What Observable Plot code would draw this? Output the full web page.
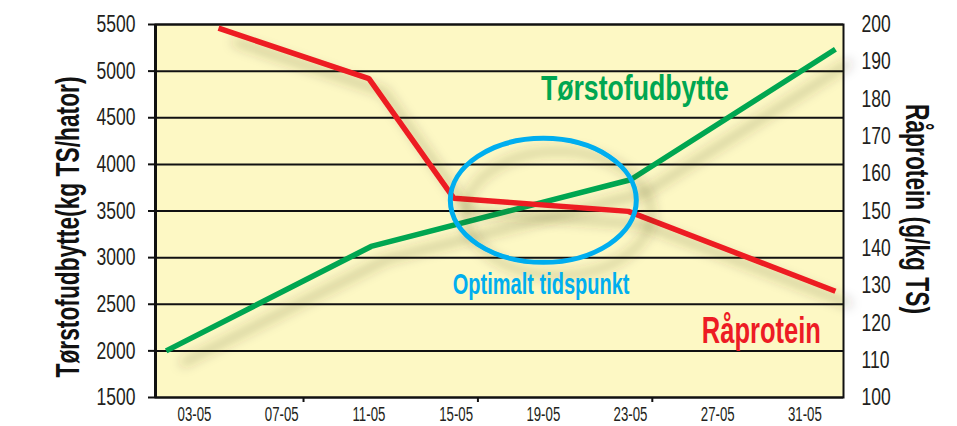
<!DOCTYPE html>
<html>
<head>
<meta charset="utf-8">
<script src="https://cdn.jsdelivr.net/npm/d3@7"></script>
<script src="https://cdn.jsdelivr.net/npm/@observablehq/plot@0.6"></script>
<style>
  html, body { margin: 0; padding: 0; background: #ffffff; }
  #chart svg { display: block; }
</style>
</head>
<body>
<div id="chart"></div>
<script>
// ---- Data ----
// Tørstofudbytte (kg TS/ha) – left axis
const tsDays   = [1.7, 11.1, 23.0, 32.4];
const tsValues = [2000, 3120, 3835, 5235];
// Råprotein (g/kg TS) – right axis
const rpDays   = [4.1, 11.0, 14.9, 22.9, 32.4];
const rpValues = [199, 185.5, 153.4, 149.9, 128.5];

// Axis ticks
const leftTicks   = [1500, 2000, 2500, 3000, 3500, 4000, 4500, 5000, 5500];
const rightTicks  = [100, 110, 120, 130, 140, 150, 160, 170, 180, 190, 200];
const xTickDays   = [3, 7, 11, 15, 19, 23, 27, 31];
const xTickLabels = ["03-05", "07-05", "11-05", "15-05", "19-05", "23-05", "27-05", "31-05"];
const xMarkDays   = [8, 16, 24];

// Annotations
const optimumDay = [19.0];
const optimumVal = [3614];
const labelTS   = {text: "Tørstofudbytte", day: 23.2, val: 4690};
const labelRP   = {text: "Råprotein", day: 29.0, val: 2080};
const labelOpt  = {text: "Optimalt tidspunkt", day: 18.9, val: 2615};
const leftTitle  = "Tørstofudbytte(kg TS/hator)";
const rightTitle = "Råprotein (g/kg TS)";

// map right-axis values onto the left scale
const toLeft   = v => 1500 + (v - 100) * 40;
const fromLeft = v => Math.round(100 + (v - 1500) / 40);

const tsData = tsDays.map((d, i) => ({day: d, val: tsValues[i]}));
const rpData = rpDays.map((d, i) => ({day: d, val: toLeft(rpValues[i])}));

const FONT = "'Liberation Sans', Arial, sans-serif";
const GREEN = "#00A651", RED = "#ED1C24", BLUE = "#00AEEF";

// custom ellipse symbol (rx = 1.5 * r)
const ellipseSymbol = {
  draw(context, size) {
    const r = Math.sqrt(size / Math.PI);
    const rx = r * 1.5, ry = r, k = 0.5523;
    context.moveTo(rx, 0);
    context.bezierCurveTo(rx, ry * k, rx * k, ry, 0, ry);
    context.bezierCurveTo(-rx * k, ry, -rx, ry * k, -rx, 0);
    context.bezierCurveTo(-rx, -ry * k, -rx * k, -ry, 0, -ry);
    context.bezierCurveTo(rx * k, -ry, rx, -ry * k, rx, 0);
    context.closePath();
  }
};

const chart = Plot.plot({
  width: 957,
  height: 426,
  marginLeft: 155,
  marginRight: 114,
  marginTop: 24,
  marginBottom: 29,
  style: {fontFamily: FONT, background: "#ffffff", color: "#231f20"},
  x: {domain: [1.21, 32.77]},
  y: {domain: [1500, 5500]},
  marks: [
    Plot.frame({fill: "#FDF8C4", stroke: null}),
    Plot.ruleY(leftTicks, {stroke: "#111", strokeWidth: 2}),
    Plot.frame({stroke: "#111", strokeWidth: 2}),
    Plot.ruleX([1.21], {stroke: "#111", strokeWidth: 3}),
    Plot.axisY(leftTicks, {
      anchor: "left", tickSize: 7, tickPadding: 13, strokeWidth: 2, stroke: "#111",
      fontSize: 24, tickFormat: d => String(d), label: null, fill: "#231f20"
    }),
    Plot.axisY(rightTicks.map(toLeft), {
      anchor: "right", tickSize: 0, tickPadding: 18,
      fontSize: 24, tickFormat: v => String(fromLeft(v)), label: null, fill: "#231f20"
    }),
    Plot.axisX(xTickDays, {
      anchor: "bottom", tickSize: 0, tickPadding: 9, fontSize: 21,
      tickFormat: d => xTickLabels[xTickDays.indexOf(d)], label: null, fill: "#231f20"
    }),
    Plot.axisX(xMarkDays, {
      anchor: "bottom", tickSize: 5, strokeWidth: 2, stroke: "#111", tickFormat: () => "", label: null
    }),
    Plot.text([leftTitle], {
      frameAnchor: "left", textAnchor: "middle", dx: -87, dy: 16, rotate: -90, text: d => d,
      fontSize: 33, fontWeight: "bold", fill: "#111"
    }),
    Plot.text([rightTitle], {
      frameAnchor: "right", textAnchor: "middle", dx: 73, dy: -2, rotate: 90, text: d => d,
      fontSize: 33, fontWeight: "bold", fill: "#111"
    }),
    Plot.line(tsData, {x: "day", y: "val", stroke: GREEN, strokeWidth: 5.5, strokeLinejoin: "miter", strokeLinecap: "butt"}),
    Plot.line(rpData, {x: "day", y: "val", stroke: RED, strokeWidth: 5.5, strokeLinejoin: "miter", strokeLinecap: "butt"}),
    Plot.dot(optimumDay.map((d, i) => ({day: d, val: optimumVal[i]})), {
      x: "day", y: "val", r: 62, symbol: ellipseSymbol, fill: "none", stroke: BLUE, strokeWidth: 5
    }),
    Plot.text([labelTS], {x: "day", y: "val", text: "text", lineAnchor: "bottom", fontSize: 36, fontWeight: "bold", fill: GREEN}),
    Plot.text([labelRP], {x: "day", y: "val", text: "text", lineAnchor: "bottom", fontSize: 37, fontWeight: "bold", fill: RED}),
    Plot.text([labelOpt], {x: "day", y: "val", text: "text", lineAnchor: "bottom", fontSize: 29, fontWeight: "bold", fill: BLUE})
  ]
});

// soft drop shadow like the original
const ns = "http://www.w3.org/2000/svg";
const defs = document.createElementNS(ns, "defs");
defs.innerHTML = '<filter id="shadow" x="-20%" y="-30%" width="150%" height="180%">' +
  '<feDropShadow dx="15" dy="13" stdDeviation="6" flood-color="#3a3510" flood-opacity="0.33"/></filter>';
chart.insertBefore(defs, chart.firstChild);
chart.querySelectorAll('g[aria-label="line"], g[aria-label="dot"]').forEach(g => g.setAttribute("filter", "url(#shadow)"));

document.getElementById("chart").appendChild(chart);

// condensed lettering (the original uses a condensed typeface):
// squeeze each text horizontally around its own anchor point
const condense = {
  "Tørstofudbytte": 0.74,
  "Råprotein": 0.69,
  "Optimalt tidspunkt": 0.69,
  "Tørstofudbytte(kg TS/hator)": 0.69,
  "Råprotein (g/kg TS)": 0.69
};
chart.querySelectorAll("text").forEach(t => {
  const s = t.textContent;
  if (!s) return;
  let f = condense[s];
  if (f == null) f = s.includes("-") ? 0.63 : 0.73;
  const x = +(t.getAttribute("x") || 0);
  const y = +(t.getAttribute("y") || 0);
  let tr = t.getAttribute("transform") || "";
  if (x || y) {
    tr = tr + ` translate(${x},${y})`;
    t.removeAttribute("x");
    t.removeAttribute("y");
  }
  t.setAttribute("transform", (tr + ` scale(${f},1)`).trim());
});
</script>
</body>
</html>
